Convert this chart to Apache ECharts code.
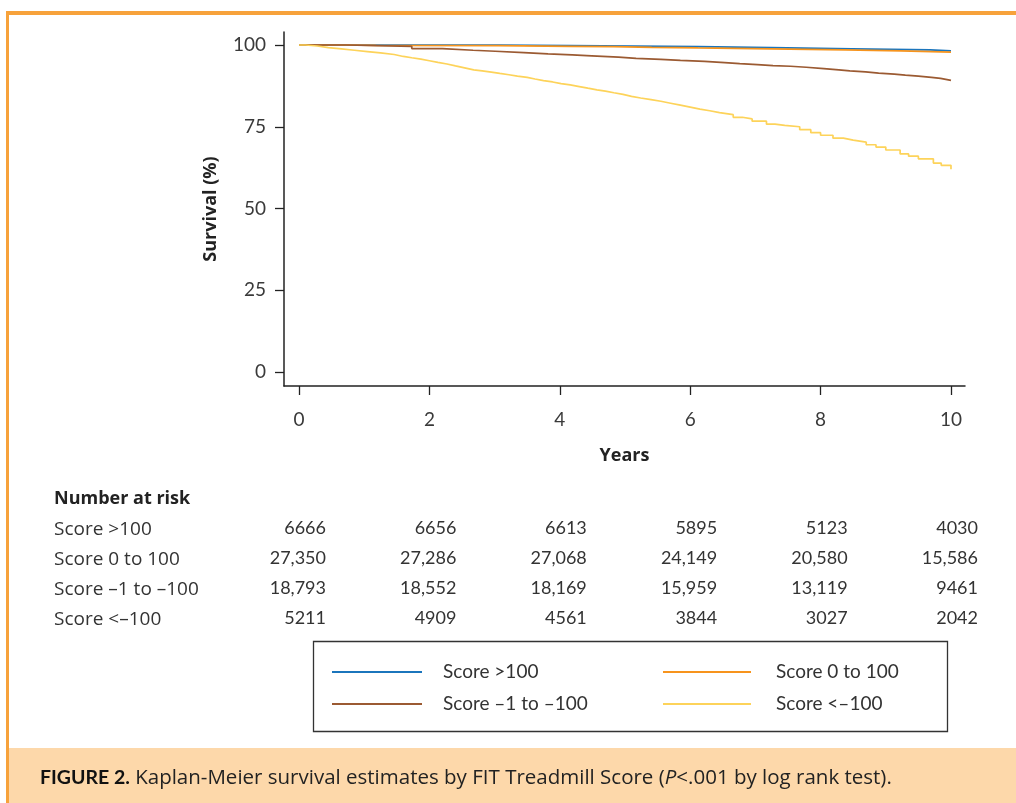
<!DOCTYPE html>
<html>
<head>
<meta charset="utf-8">
<script src="https://cdn.jsdelivr.net/npm/echarts@6/dist/echarts.min.js"></script>
<style>
html,body{margin:0;padding:0;background:#fff;}
#chart{width:1016px;height:803px;}
</style>
</head>
<body>
<div id="chart"></div>
<script>
// ---- data ----
const seriesNames = ['Score >100', 'Score 0 to 100', 'Score \u20131 to \u2013100', 'Score <\u2013100'];
const xTicks = [0, 2, 4, 6, 8, 10];
const yTicks = [0, 25, 50, 75, 100];

const survGT100 = [[0,100],[3.06,99.8],[4.16,99.5],[6.12,99.2],[7.24,98.8],[8.48,98.5],[9.68,98.2],[10,98.2]];
const surv0to100 = [[0,100],[0.7,99.9],[1.18,99.8],[3.06,99.6],[4.16,99.5],[4.83,99.3],[5.41,99.1],[6.12,98.8],[7.24,98.5],[8.38,98.2],[9.23,97.8],[10,97.8]];
const survM1toM100 = [[0,100],[0.72,99.6],[1.73,98.9],[2.20,98.4],[2.67,98.1],[3.01,97.7],[3.45,97.3],[3.82,97.0],[4.19,96.7],[4.49,96.3],[4.90,95.9],[5.17,95.6],[5.55,95.3],[5.85,95.0],[6.22,94.6],[6.53,94.3],[6.76,94.0],[7.03,93.7],[7.27,93.5],[7.54,93.2],[7.78,92.8],[8.05,92.4],[8.28,92.1],[8.45,91.8],[8.69,91.4],[8.89,91.1],[9.13,90.8],[9.30,90.5],[9.50,90.1],[9.70,89.8],[9.84,89.2],[10,89.2]];
const survLTM100 = [[0,100],[0.1,99.7],[0.28,99.2],[0.45,98.8],[0.65,98.4],[0.85,98.0],[1.05,97.6],[1.25,97.1],[1.46,96.5],[1.6,96.1],[1.73,95.7],[1.87,95.2],[2.0,94.7],[2.13,94.2],[2.27,93.6],[2.4,93.0],[2.54,92.4],[2.68,92.1],[2.81,91.7],[2.95,91.3],[3.08,90.9],[3.22,90.5],[3.35,90.1],[3.5,89.6],[3.62,89.1],[3.75,88.7],[3.89,88.2],[4.02,87.8],[4.16,87.3],[4.3,86.8],[4.43,86.3],[4.57,85.9],[4.70,85.4],[4.83,84.9],[4.97,84.3],[5.1,83.8],[5.24,83.3],[5.4,82.8],[5.55,82.2],[5.7,81.6],[5.85,81.0],[6.0,80.4],[6.15,79.9],[6.3,79.3],[6.45,78.7],[6.66,77.9],[6.8,77.4],[6.95,76.7],[7.17,75.8],[7.3,75.4],[7.45,75.0],[7.68,74.1],[7.85,73.2],[8.0,72.4],[8.19,71.5],[8.35,70.9],[8.5,70.3],[8.70,69.5],[8.85,68.8],[9.0,67.9],[9.22,66.7],[9.35,66.0],[9.5,65.2],[9.73,63.9],[9.85,63.2],[10.0,62.0]];

const riskGT100 = [6666, 6656, 6613, 5895, 5123, 4030];
const risk0to100 = [27350, 27286, 27068, 24149, 20580, 15586];
const riskM1toM100 = [18793, 18552, 18169, 15959, 13119, 9461];
const riskLTM100 = [5211, 4909, 4561, 3844, 3027, 2042];

const captionBold = 'FIGURE 2.';
const captionText = ' Kaplan-Meier survival estimates by FIT Treadmill Score (';
const captionItalic = 'P';
const captionTail = '<.001 by log rank test).';

// ---- chart ----
const FONT = 'Lato, "Open Sans", sans-serif';
const WIDE = '"Open Sans", Lato, sans-serif';
const colors = ['#1b75bc', '#f7941d', '#9b5a32', '#fdd35a'];
const chart = echarts.init(document.getElementById('chart'), null, {renderer: 'canvas'});

const survData = [survGT100, surv0to100, survM1toM100, survLTM100];
const drawOrder = [0, 1, 2, 3];

const option = {
  animation: false,
  backgroundColor: '#fff',
  grid: {left: 284, right: 51, top: 32, bottom: 417, containLabel: false},
  xAxis: {
    type: 'value', min: -0.23, max: 10.215,
    name: 'Years', nameLocation: 'middle', nameGap: 61,
    nameTextStyle: {fontFamily: WIDE, fontWeight: 'bold', fontSize: 18, color: '#222'},
    axisLine: {show: true, onZero: false, lineStyle: {color: '#222', width: 1.5}},
    axisTick: {show: true, inside: false, length: 9, customValues: xTicks, lineStyle: {color: '#222', width: 1.3}},
    axisLabel: {show: true, customValues: xTicks, margin: 24, fontFamily: FONT, fontSize: 19, color: '#3a3a3a'},
    splitLine: {show: false}
  },
  yAxis: {
    type: 'value', min: -4.28, max: 103.98,
    name: 'Survival (%)', nameLocation: 'middle', nameGap: 64, nameRotate: 90,
    nameTextStyle: {fontFamily: WIDE, fontWeight: 'bold', fontSize: 18, color: '#222'},
    axisLine: {show: true, onZero: false, lineStyle: {color: '#222', width: 1.5}},
    axisTick: {show: true, inside: false, length: 9, customValues: yTicks, lineStyle: {color: '#222', width: 1.3}},
    axisLabel: {show: true, customValues: yTicks, margin: 18, fontFamily: FONT, fontSize: 19, color: '#3a3a3a'},
    splitLine: {show: false}
  },
  legend: [
    {
      data: [seriesNames[0], seriesNames[2]], orient: 'vertical', left: 332, top: 661, padding: 0,
      icon: 'rect', itemWidth: 90, itemHeight: 2, itemGap: 10,
      textStyle: {fontFamily: FONT, fontSize: 19, color: '#333', lineHeight: 22, padding: [0, 0, 0, 16]},
      selectedMode: false
    },
    {
      data: [seriesNames[1], seriesNames[3]], orient: 'vertical', left: 663, top: 661, padding: 0,
      icon: 'rect', itemWidth: 88, itemHeight: 2, itemGap: 10,
      textStyle: {fontFamily: FONT, fontSize: 19, color: '#333', lineHeight: 22, padding: [0, 0, 0, 20]},
      selectedMode: false
    }
  ],
  series: drawOrder.map(i => ({
    name: seriesNames[i], type: 'line', step: 'end', data: survData[i],
    showSymbol: false, symbol: 'none', color: colors[i],
    lineStyle: {color: colors[i], width: 1.7}, z: 2 + i
  }))
};
chart.setOption(option);

// risk table and frame drawn with graphic, positioned via the x axis scale
function fmt(n) { return n >= 10000 ? n.toLocaleString('en-US') : String(n); }
const riskRows = [riskGT100, risk0to100, riskM1toM100, riskLTM100];
const rowY = [528, 558, 588, 618];
const g = [];
g.push({type: 'rect', shape: {x: 6, y: 11, width: 3, height: 792}, style: {fill: '#f7a23b'}, silent: true});
g.push({type: 'rect', shape: {x: 6, y: 11, width: 1010, height: 4}, style: {fill: '#f7a23b'}, silent: true});
g.push({type: 'rect', shape: {x: 9, y: 748, width: 1007, height: 55}, style: {fill: '#fdd8aa'}, silent: true});
g.push({type: 'rect', shape: {x: 313.5, y: 641.5, width: 634, height: 90}, style: {fill: 'none', stroke: '#333', lineWidth: 1.3}, silent: true, z: 1});
g.push({type: 'text', x: 54, y: 499, style: {text: 'Number at risk', fontFamily: WIDE, fontWeight: 'bold', fontSize: 18, fill: '#222', verticalAlign: 'middle', align: 'left'}});
riskRows.forEach((row, r) => {
  g.push({type: 'text', x: 54, y: rowY[r] + 2, style: {text: seriesNames[r], fontFamily: WIDE, fontSize: 19, fill: '#333', verticalAlign: 'middle', align: 'left'}});
  row.forEach((v, c) => {
    const px = chart.convertToPixel({xAxisIndex: 0}, xTicks[c]);
    g.push({type: 'text', x: px + 27, y: rowY[r], style: {text: fmt(v), fontFamily: FONT, fontSize: 18, fill: '#333', verticalAlign: 'middle', align: 'right'}});
  });
});
g.push({type: 'text', x: 40, y: 778, style: {
  text: '{b|' + captionBold + '}{n|' + captionText + '}{i|' + captionItalic + '}{n|' + captionTail + '}',
  verticalAlign: 'middle', align: 'left',
  rich: {
    b: {fontFamily: FONT, fontWeight: 'bold', fontSize: 19.5, fill: '#111'},
    n: {fontFamily: WIDE, fontSize: 20.5, fill: '#222'},
    i: {fontFamily: WIDE, fontStyle: 'italic', fontSize: 20.5, fill: '#222'}
  }
}});
chart.setOption({graphic: g});
</script>
</body>
</html>
